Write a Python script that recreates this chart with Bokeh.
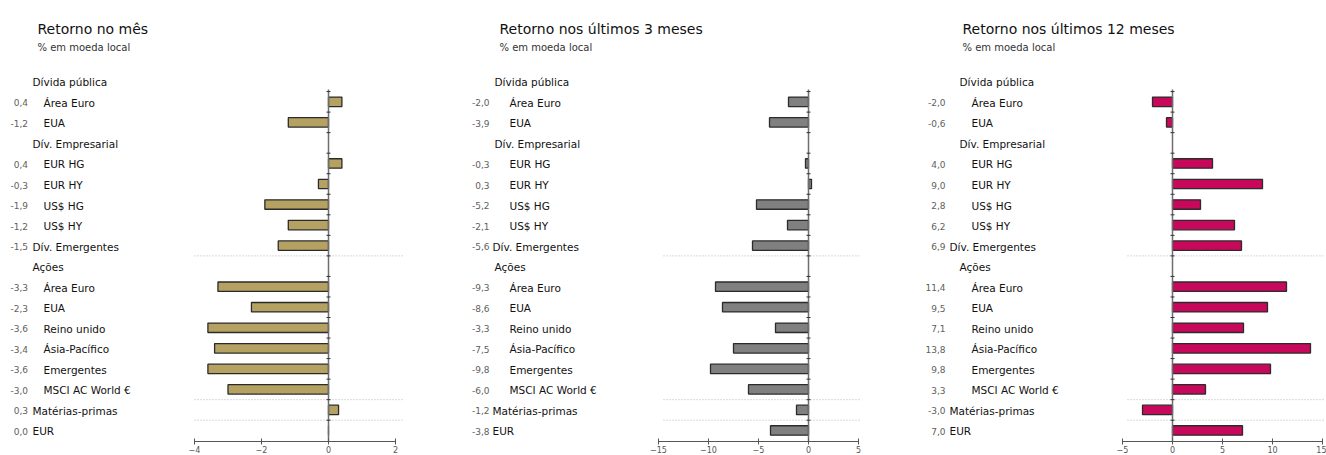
from bokeh.plotting import figure
from bokeh.layouts import row
from bokeh.models import Range1d, FixedTicker
from bokeh.embed import file_html
from bokeh.resources import INLINE
from bokeh.core.properties import value

# ---------------- data ----------------
rows = ["Dívida pública", "Área Euro", "EUA", "Dív. Empresarial", "EUR HG", "EUR HY",
        "US$ HG", "US$ HY", "Dív. Emergentes", "Ações", "Área Euro", "EUA", "Reino unido",
        "Ásia-Pacífico", "Emergentes", "MSCI AC World €", "Matérias-primas", "EUR"]
row_kind = ["header", "item", "item", "header", "item", "item", "item", "item", "valheader",
            "header", "item", "item", "item", "item", "item", "item", "valheader", "valheader"]
ret_1m = [None, 0.4, -1.2, None, 0.4, -0.3, -1.9, -1.2, -1.5, None,
          -3.3, -2.3, -3.6, -3.4, -3.6, -3.0, 0.3, 0.0]
ret_3m = [None, -2.0, -3.9, None, -0.3, 0.3, -5.2, -2.1, -5.6, None,
          -9.3, -8.6, -3.3, -7.5, -9.8, -6.0, -1.2, -3.8]
ret_12m = [None, -2.0, -0.6, None, 4.0, 9.0, 2.8, 6.2, 6.9, None,
           11.4, 9.5, 7.1, 13.8, 9.8, 3.3, -3.0, 7.0]
titles = ["Retorno no mês", "Retorno nos últimos 3 meses", "Retorno nos últimos 12 meses"]
subtitle = "% em moeda local"
ticks_1m = [-4, -2, 0, 2]
ticks_3m = [-15, -10, -5, 0, 5]
ticks_12m = [-5, 0, 5, 10, 15]
separator_after_rows = [8, 15, 16]

# ---------------- layout ----------------
PAGE_TOP = 0
FIG_H = 455
FRAME_BOTTOM = 441
ROW0_Y = 80.8
ROW_PX = 20.54
FONT = "DejaVu Sans"

panels = [
    dict(vals=ret_1m, ticks=ticks_1m, title=titles[0], color="#B5A263",
         left=0, width=420, border_r=4, zero=328, ppu=33.5,
         title_x=37, header_x=32, valheader_x=32, item_x=43, value_r=27.5, dots=(-4.0, 2.25)),
    dict(vals=ret_3m, ticks=ticks_3m, title=titles[1], color="#808080",
         left=420, width=465, border_r=4, zero=808, ppu=10.0,
         title_x=499, header_x=494, valheader_x=492, item_x=509, value_r=489, dots=(-14.5, 5.2)),
    dict(vals=ret_12m, ticks=ticks_12m, title=titles[2], color="#C8085A",
         left=885, width=441, border_r=0, zero=1172, ppu=10.0,
         title_x=962, header_x=959, valheader_x=949, item_x=971, value_r=945, dots=(-4.5, 15.3)),
]


def page_y(py):
    return -(py - ROW0_Y) / ROW_PX


figs = []
for cfg in panels:
    ppu, zero = cfg["ppu"], cfg["zero"]

    def px(x):
        return (x - zero) / ppu

    x0 = px(cfg["left"])
    x1 = px(cfg["left"] + cfg["width"] - cfg["border_r"])
    y_top = (ROW0_Y - PAGE_TOP) / ROW_PX
    y_bot = -(FRAME_BOTTOM - ROW0_Y) / ROW_PX

    p = figure(width=cfg["width"], height=FIG_H, output_backend="svg", toolbar_location=None,
               x_range=Range1d(x0, x1), y_range=Range1d(y_bot, y_top),
               min_border_left=0, min_border_right=cfg["border_r"], min_border_top=0,
               min_border_bottom=FIG_H - (FRAME_BOTTOM - PAGE_TOP))
    p.outline_line_color = None
    p.xgrid.visible = False
    p.ygrid.visible = False
    p.yaxis.visible = False

    xa = p.xaxis[0]
    xa.ticker = FixedTicker(ticks=cfg["ticks"], minor_ticks=[])
    xa.bounds = (cfg["ticks"][0], cfg["ticks"][-1])
    xa.axis_line_color = "#555555"
    xa.major_tick_line_color = "#555555"
    xa.major_tick_in = 3
    xa.major_tick_out = 3
    xa.minor_tick_line_color = None
    xa.major_label_text_font = FONT
    xa.major_label_text_font_size = "8px"
    xa.major_label_text_color = "#555555"
    xa.major_label_standoff = 1

    # dotted separators
    sep_y = [-(r + 0.5) for r in separator_after_rows]
    p.segment(x0=[cfg["dots"][0]] * len(sep_y), x1=[cfg["dots"][1]] * len(sep_y),
              y0=sep_y, y1=sep_y, line_color="#b5b5b5", line_width=1, line_dash="1 2")

    # bars
    bar_y = [-i for i, v in enumerate(cfg["vals"]) if v is not None]
    bar_v = [v for v in cfg["vals"] if v is not None]
    p.hbar(y=bar_y, left=0, right=bar_v, height=0.46, fill_color=cfg["color"],
           line_color="#2b2b2b", line_width=1.3)

    # zero line with small ticks
    p.segment(x0=[0], x1=[0], y0=[-0.4], y1=[y_bot], line_color="#6e6e6e", line_width=1.5)
    tk_y = [-(r + 0.5) for r in range(len(rows) - 1)]
    d = 2.0 / ppu
    p.segment(x0=[-d] * len(tk_y), x1=[d] * len(tk_y), y0=tk_y, y1=tk_y,
              line_color="#333333", line_width=1)

    # titles
    p.text(x=[px(cfg["title_x"])], y=[page_y(28.3)], text=[cfg["title"]],
           text_font=value(FONT), text_font_size="14px", text_color="#111111",
           text_baseline="alphabetic", text_align="left")
    p.text(x=[px(cfg["title_x"])], y=[page_y(46.5)], text=[subtitle],
           text_font=value(FONT), text_font_size="10px", text_color="#333333",
           text_baseline="alphabetic", text_align="left")

    # category labels
    lx, ly, lt = [], [], []
    for i, (name, kind) in enumerate(zip(rows, row_kind)):
        xp = {"header": cfg["header_x"], "valheader": cfg["valheader_x"], "item": cfg["item_x"]}[kind]
        lx.append(px(xp))
        ly.append(-(i + 1.0 / ROW_PX))
        lt.append(name)
    p.text(x=lx, y=ly, text=lt, text_font=value(FONT), text_font_size="10.5px",
           text_color="#111111", text_baseline="middle", text_align="left")

    # value labels
    vx, vy, vt = [], [], []
    for i, v in enumerate(cfg["vals"]):
        if v is None:
            continue
        vx.append(px(cfg["value_r"]))
        vy.append(-(i + 1.0 / ROW_PX))
        vt.append(f"{v:.1f}".replace(".", ","))
    p.text(x=vx, y=vy, text=vt, text_font=value(FONT), text_font_size="9px",
           text_color="#606060", text_baseline="middle", text_align="right")

    figs.append(p)

layout = row(*figs, spacing=0)
open("out.html", "w").write(file_html(layout, INLINE))
